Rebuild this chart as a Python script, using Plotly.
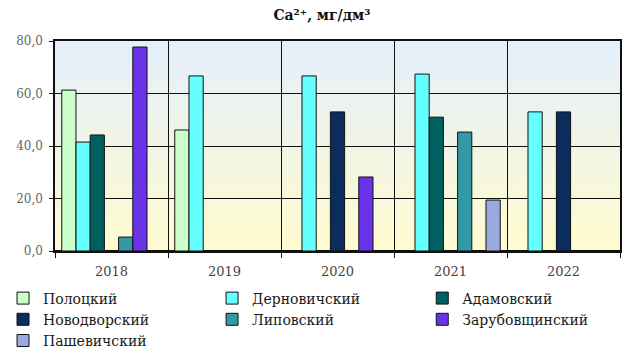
import plotly.graph_objects as go

# Calcium concentration by district and year
years = ["2018", "2019", "2020", "2021", "2022"]
districts = ["Полоцкий", "Дерновичский", "Адамовский", "Новодворский",
             "Липовский", "Зарубовщинский", "Пашевичский"]

polotsky = [61.3, 46.1, None, None, None]
dernovichsky = [41.5, 66.7, 66.7, 67.4, 53.0]
adamovsky = [44.2, None, None, 51.0, None]
novodvorsky = [None, None, 53.0, None, 53.0]
lipovsky = [5.3, None, None, 45.3, None]
zarubovshchinsky = [77.7, None, 28.2, None, None]
pashevichsky = [None, None, None, 19.4, None]

series = [polotsky, dernovichsky, adamovsky, novodvorsky,
          lipovsky, zarubovshchinsky, pashevichsky]
colors = ["#CCFFCC", "#66FFFF", "#006060", "#0A2D5E",
          "#3399A6", "#6A33EA", "#99AADD"]
legend_ids = ["legend", "legend2", "legend3", "legend",
              "legend2", "legend3", "legend"]

y_ticks = [0, 20, 40, 60, 80]

SERIF = "DejaVu Serif"

fig = go.Figure()
for name, vals, col, lg in zip(districts, series, colors, legend_ids):
    fig.add_trace(go.Bar(
        x=years, y=vals, name=name, legend=lg,
        marker=dict(color=col, line=dict(color="#111111", width=1)),
    ))

# soft vertical gradient behind the plot area: pale blue on top to pale yellow at the bottom
top_rgb = (228, 239, 251)
bot_rgb = (255, 251, 208)
n_bands = 60
for i in range(n_bands):
    t = i / (n_bands - 1)
    r, g, b = (round(bot_rgb[k] + (top_rgb[k] - bot_rgb[k]) * t) for k in range(3))
    fig.add_shape(type="rect", xref="paper", yref="paper",
                  x0=0, x1=1, y0=i / n_bands, y1=(i + 1) / n_bands + 0.002,
                  fillcolor=f"rgb({r},{g},{b})", line=dict(width=0), layer="below")

legend_common = dict(
    orientation="v", xanchor="left", yanchor="top",
    bgcolor="rgba(0,0,0,0)", borderwidth=0, tracegroupgap=0,
    font=dict(family=SERIF, size=14, color="#1a1a1a"),
)

fig.update_layout(
    width=625, height=359,
    margin=dict(l=53, r=3, t=41, b=107),
    paper_bgcolor="white",
    plot_bgcolor="rgb(242,246,230)",
    separators=", ",
    barmode="group", bargap=0.12, bargroupgap=0,
    title=dict(text="<b>Ca²⁺, мг/дм³</b>", x=0.515, xanchor="center",
               y=0.958, yanchor="middle",
               font=dict(family=SERIF, size=14, color="#111111")),
    legend=dict(x=-0.092, y=-0.15, **legend_common),
    legend2=dict(x=0.278, y=-0.15, **legend_common),
    legend3=dict(x=0.65, y=-0.15, **legend_common),
    xaxis=dict(
        type="category", tickson="boundaries",
        showgrid=True, gridcolor="#111111", gridwidth=1,
        showline=True, linecolor="#111111", linewidth=1.5, mirror=True,
        ticks="outside", ticklen=5, tickcolor="#111111",
        ticklabelstandoff=8,
        tickfont=dict(family=SERIF, size=13, color="#444444"),
    ),
    yaxis=dict(
        range=[0, 80], tickvals=y_ticks, tickformat=".1f",
        showgrid=True, gridcolor="#111111", gridwidth=1,
        zeroline=True, zerolinecolor="#111111", zerolinewidth=1.5,
        showline=True, linecolor="#111111", linewidth=1.5, mirror=True,
        ticks="outside", ticklen=4, tickcolor="#111111",
        ticklabelstandoff=4,
        tickfont=dict(family=SERIF, size=12, color="#666666"),
    ),
)

fig.write_html("out.html")
